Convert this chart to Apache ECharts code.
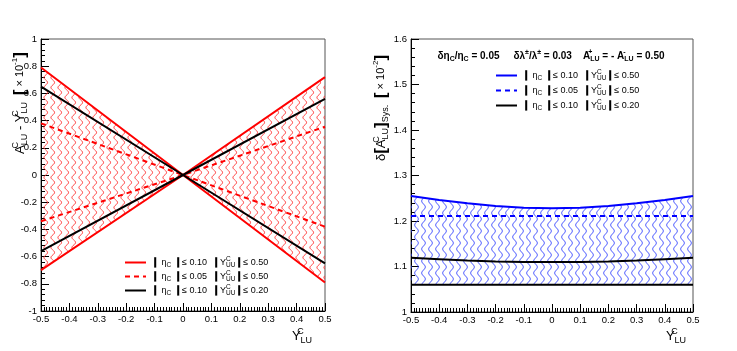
<!DOCTYPE html>
<html>
<head>
<meta charset="utf-8">
<script src="https://cdn.jsdelivr.net/npm/echarts@6/dist/echarts.min.js"></script>
<style>
  html, body { margin: 0; background: #fff; }
  #chart { width: 737px; height: 351px; }
</style>
</head>
<body>
<div id="chart"></div>
<script>
const FONT = 'Liberation Sans';

// left panel : A_LU - Y_LU  (x 10^-1)  vs  Y_LU
const xLeft = [-0.5, 0, 0.5];
const redSolidA = [0.79, 0, -0.79];
const redSolidB = [-0.70, 0, 0.72];
const redDashA = [0.38, 0, -0.38];
const redDashB = [-0.34, 0, 0.355];
const blackA = [0.65, 0, -0.65];
const blackB = [-0.56, 0, 0.56];

// right panel : delta[A_LU]_Sys.  (x 10^-2)  vs  Y_LU
const xRight = [-0.5, -0.4, -0.3, -0.2, -0.1, 0, 0.1, 0.2, 0.3, 0.4, 0.5];
const blueSolid = [1.255, 1.246, 1.239, 1.233, 1.229, 1.228, 1.229, 1.233, 1.239, 1.246, 1.255];
const blueDash = [1.211, 1.211, 1.211, 1.211, 1.211, 1.211, 1.211, 1.211, 1.211, 1.211, 1.211];
const blackTop = [1.119, 1.116, 1.113, 1.111, 1.110, 1.110, 1.110, 1.111, 1.113, 1.116, 1.119];
const blackBottom = [1.06, 1.06, 1.06, 1.06, 1.06, 1.06, 1.06, 1.06, 1.06, 1.06, 1.06];

const legendLeft = ['L1', 'L2', 'L3'];
const legendRight = ['R1', 'R2', 'R3'];
const etaCut = { L1: '0.10', L2: '0.05', L3: '0.10', R1: '0.10', R2: '0.05', R3: '0.10' };
const yCut = { L1: '0.50', L2: '0.50', L3: '0.20', R1: '0.50', R2: '0.50', R3: '0.20' };

// wavy hatch like ROOT fill style
function wavy(color, w, h) {
  const c = document.createElement('canvas');
  c.width = w; c.height = h;
  const ctx = c.getContext('2d');
  ctx.strokeStyle = color;
  ctx.lineWidth = 1;
  ctx.beginPath();
  for (let y = 0; y <= h; y += 0.5) {
    const x = w / 2 + 1.8 * Math.sin(2 * Math.PI * y / h);
    if (y === 0) ctx.moveTo(x, y); else ctx.lineTo(x, y);
  }
  ctx.stroke();
  return c;
}

const pairs = (xs, ys) => xs.map((x, i) => [x, ys[i]]);

function line(name, idx, xs, ys, color, type) {
  return {
    name: name, type: 'line', xAxisIndex: idx, yAxisIndex: idx,
    data: pairs(xs, ys), symbol: 'none',
    lineStyle: { color: color, width: 2, type: type || 'solid' },
    itemStyle: { color: color }
  };
}

// filled band between lower and upper, drawn as one polygon through the axes
function band(idx, xs, lower, upper, pattern) {
  return {
    type: 'custom', xAxisIndex: idx, yAxisIndex: idx, silent: true, z: 1,
    data: xs.map((x, i) => [x, lower[i], upper[i]]),
    encode: { x: 0, y: [1, 2] },
    renderItem: function (params, api) {
      if (params.dataIndexInside !== 0) return;
      const n = params.dataInsideLength;
      const top = [], bot = [];
      for (let i = 0; i < n; i++) {
        top.push(api.coord([api.value(0, i), api.value(2, i)]));
        bot.push(api.coord([api.value(0, i), api.value(1, i)]));
      }
      return {
        type: 'polygon',
        shape: { points: top.concat(bot.reverse()) },
        style: { fill: { image: pattern, repeat: 'repeat' }, stroke: null }
      };
    }
  };
}

const lowerL = redSolidA.map((v, i) => Math.min(v, redSolidB[i]));
const upperL = redSolidA.map((v, i) => Math.max(v, redSolidB[i]));

const rich = {
  t: { fontFamily: FONT, fontSize: 9, color: '#000', lineHeight: 13 },
  b: { fontFamily: FONT, fontSize: 10, fontWeight: 'bold', color: '#000', lineHeight: 13 },
  sub: { fontFamily: FONT, fontSize: 6.5, color: '#000', lineHeight: 8, verticalAlign: 'bottom' },
  sup: { fontFamily: FONT, fontSize: 6.5, color: '#000', lineHeight: 8, verticalAlign: 'top', width: 0 }
};

function legendText(name) {
  return '{b|\u2759}{t| \u03b7}{sub|C}{b| \u2759}{t|\u2264 ' + etaCut[name] + '  }' +
    '{b|\u2759}{t|Y}{sup|C}{sub|UU}{b|\u2759}{t|\u2264 ' + yCut[name] + '}';
}

function xAxis(idx) {
  return {
    type: 'value', gridIndex: idx, min: -0.5, max: 0.5, interval: 0.1,
    axisLine: { onZero: false, lineStyle: { color: '#000', width: 1 } },
    axisTick: { inside: true, length: 8, lineStyle: { color: '#000' } },
    minorTick: { show: true, splitNumber: 10, length: 4, lineStyle: { color: '#000' } },
    splitLine: { show: false },
    axisLabel: { fontFamily: FONT, fontSize: 9.5, color: '#000', margin: 3 }
  };
}

function yAxis(idx, min, max, interval) {
  return {
    type: 'value', gridIndex: idx, min: min, max: max, interval: interval,
    axisLine: { onZero: false, lineStyle: { color: '#000', width: 1 } },
    axisTick: { inside: true, length: 8, lineStyle: { color: '#000' } },
    minorTick: { show: true, splitNumber: 5, length: 4, lineStyle: { color: '#000' } },
    splitLine: { show: false },
    axisLabel: { fontFamily: FONT, fontSize: 9.5, color: '#000', margin: 4 }
  };
}

const titleRich = {
  t: { fontFamily: FONT, fontSize: 13, color: '#000', lineHeight: 18 },
  s: { fontFamily: FONT, fontSize: 11, color: '#000', lineHeight: 18 },
  br: { fontFamily: FONT, fontSize: 17, fontWeight: 'bold', color: '#000', lineHeight: 18 },
  sub: { fontFamily: FONT, fontSize: 9, color: '#000', lineHeight: 9, verticalAlign: 'bottom' },
  sup: { fontFamily: FONT, fontSize: 9, color: '#000', lineHeight: 9, verticalAlign: 'top', width: 0 },
  sup2: { fontFamily: FONT, fontSize: 8, color: '#000', lineHeight: 9, verticalAlign: 'top' }
};

const headRich = {
  t: { fontFamily: FONT, fontSize: 10, fontWeight: 'bold', color: '#000', lineHeight: 14 },
  sub: { fontFamily: FONT, fontSize: 7, fontWeight: 'bold', color: '#000', lineHeight: 8, verticalAlign: 'bottom' },
  sup: { fontFamily: FONT, fontSize: 7, fontWeight: 'bold', color: '#000', lineHeight: 8, verticalAlign: 'top', width: 0 },
  sup2: { fontFamily: FONT, fontSize: 7, fontWeight: 'bold', color: '#000', lineHeight: 8, verticalAlign: 'top' }
};

function gtext(x, y, text, richStyle, rotation) {
  return {
    type: 'text', x: x, y: y, rotation: rotation || 0, silent: true,
    style: { text: text, rich: richStyle, align: 'center', verticalAlign: 'middle' }
  };
}

const legendBase = {
  orient: 'vertical', itemWidth: 21, itemHeight: 10,
  itemStyle: { opacity: 0 },
  formatter: legendText, textStyle: { rich: rich }
};

const chart = echarts.init(document.getElementById('chart'));
chart.setOption({
  animation: false,
  grid: [
    { left: 41, top: 39, width: 284, height: 272, show: true, borderColor: '#555', borderWidth: 1 },
    { left: 411, top: 39, width: 282, height: 273, show: true, borderColor: '#555', borderWidth: 1 }
  ],
  xAxis: [xAxis(0), xAxis(1)],
  yAxis: [yAxis(0, -1, 1, 0.2), yAxis(1, 1, 1.6, 0.1)],
  legend: [
    Object.assign({ data: legendLeft, left: 119, top: 251, itemGap: 1 }, legendBase),
    Object.assign({ data: legendRight, left: 490, top: 64, itemGap: 2 }, legendBase)
  ],
  graphic: [
    gtext(20, 103, '{t|A}{sup|C}{sub|LU}{t| - Y}{sup|C}{sub|LU}  {br|[}{s| \u00d7 10}{sup2|-1}{br|]}', titleRich, Math.PI / 2),
    gtext(381, 108, '{t|\u03b4}{br|[}{t|A}{sup|C}{sub|LU}{br|]}{sub|Sys.}  {br|[}{s| \u00d7 10}{sup2|-2}{br|]}', titleRich, Math.PI / 2),
    gtext(302, 336, '{t|Y}{sup|C}{sub|LU}', titleRich),
    gtext(676, 336, '{t|Y}{sup|C}{sub|LU}', titleRich),
    gtext(551, 56, '{t|\u03b4\u03b7}{sub|C}{t|/\u03b7}{sub|C}{t| = 0.05     \u03b4\u03bb}{sup2|\u00b1}{t|/\u03bb}{sup2|\u00b1}{t| = 0.03    A}{sup|+}{sub|LU}{t| = - A}{sup|-}{sub|LU}{t| = 0.50}', headRich)
  ],
  series: [
    band(0, xLeft, lowerL, upperL, wavy('#ff3030', 7.5, 10)),
    band(1, xRight, blackBottom, blueSolid, wavy('#3040ff', 7, 12)),
    line('L1', 0, xLeft, redSolidA, '#ff0000'),
    line('L1', 0, xLeft, redSolidB, '#ff0000'),
    line('L2', 0, xLeft, redDashA, '#ff0000', [5, 4]),
    line('L2', 0, xLeft, redDashB, '#ff0000', [5, 4]),
    line('L3', 0, xLeft, blackA, '#000'),
    line('L3', 0, xLeft, blackB, '#000'),
    line('R1', 1, xRight, blueSolid, '#0000ff'),
    line('R2', 1, xRight, blueDash, '#0000ff', [5, 4]),
    line('R3', 1, xRight, blackTop, '#000'),
    line('R3', 1, xRight, blackBottom, '#000')
  ]
});
</script>
</body>
</html>
